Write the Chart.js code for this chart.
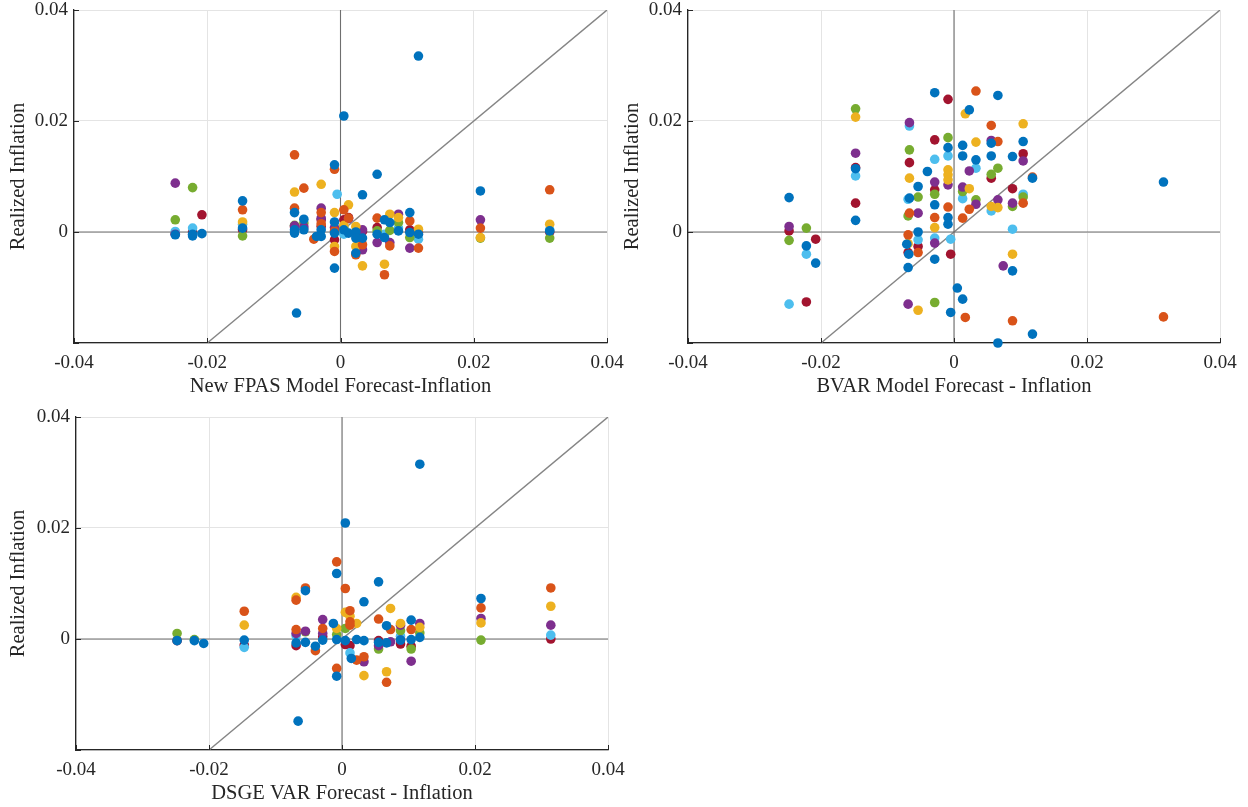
<!DOCTYPE html>
<html>
<head>
<meta charset="utf-8">
<script src="https://cdn.jsdelivr.net/npm/chart.js@4.4.1/dist/chart.umd.min.js"></script>
<style>
  body { margin: 0; background: #fff; width: 1248px; height: 807px; position: relative; overflow: hidden; }
  canvas { position: absolute; }
</style>
</head>
<body>
<canvas id="fpas" width="640" height="400" style="left:0;top:0"></canvas>
<canvas id="bvar" width="634" height="400" style="left:614px;top:0"></canvas>
<canvas id="dsge" width="640" height="400" style="left:0;top:407px"></canvas>
<script>
// tick labels
const xTicks = [-0.04, -0.02, 0, 0.02, 0.04];
const yTicks = [-0.02, 0, 0.02, 0.04];

// matlab default colour order, one series per colour
const seriesColors = ['#0072BD', '#D95319', '#EDB120', '#7E2F8E', '#77AC30', '#4DBEEE', '#A2142F'];

// [forecast, realized, series]
const fpasPoints = [
  [-0.0248,0.0088,3],[-0.0248,0.0022,4],[-0.0248,0.0001,5],[-0.0248,-0.0003,6],[-0.0248,-0.0004,3],[-0.0248,-0.0005,0],
  [-0.0222,0.0080,4],[-0.0222,0.0007,5],[-0.0222,0.0000,6],[-0.0222,-0.0004,0],[-0.0222,-0.0007,0],
  [-0.0208,0.0031,6],[-0.0208,-0.0003,0],
  [-0.0147,0.0056,0],[-0.0147,0.0040,1],[-0.0147,0.0018,2],[-0.0147,0.0014,5],[-0.0147,0.0007,0],[-0.0147,0.0004,6],[-0.0147,-0.0007,4],
  [-0.0069,0.0139,1],[-0.0069,0.0072,2],[-0.0069,0.0043,1],[-0.0069,0.0035,0],[-0.0069,0.0012,4],[-0.0069,0.0011,3],[-0.0069,0.0009,6],[-0.0069,0.0004,0],[-0.0069,-0.0002,0],
  [-0.0066,-0.0146,0],
  [-0.0055,0.0079,1],[-0.0055,0.0023,0],[-0.0055,0.0016,4],[-0.0055,0.0009,3],[-0.0055,0.0004,0],
  [-0.0040,-0.0013,1],[-0.0036,-0.0008,0],
  [-0.0029,0.0086,2],[-0.0029,0.0043,3],[-0.0029,0.0035,1],[-0.0029,0.0025,3],[-0.0029,0.0022,6],[-0.0029,0.0015,1],[-0.0029,0.0010,6],[-0.0029,0.0004,0],[-0.0029,-0.0008,0],
  [-0.0009,0.0121,0],[-0.0009,0.0113,1],[-0.0009,0.0035,2],[-0.0009,0.0018,0],[-0.0009,0.0008,3],[-0.0009,0.0002,1],[-0.0009,-0.0002,0],[-0.0009,-0.0014,6],[-0.0009,-0.0026,2],[-0.0009,-0.0035,1],[-0.0009,-0.0065,0],
  [-0.0005,0.0068,5],
  [0.0005,0.0209,0],[0.0005,0.0040,1],[0.0005,0.0022,6],[0.0005,0.0012,2],[0.0005,0.0008,4],[0.0005,0.0004,0],[0.0005,-0.0004,5],
  [0.0012,0.0049,2],[0.0012,0.0026,6],[0.0012,0.0025,1],[0.0012,0.0024,3],[0.0012,-0.0002,0],
  [0.0023,0.0010,2],[0.0023,0.0000,0],[0.0023,-0.0011,0],[0.0023,-0.0026,2],[0.0023,-0.0038,0],[0.0023,-0.0041,1],
  [0.0033,0.0067,0],[0.0033,0.0004,3],[0.0033,0.0001,6],[0.0033,-0.0011,0],[0.0033,-0.0023,1],[0.0033,-0.0032,3],[0.0033,-0.0061,2],
  [0.0055,0.0104,0],[0.0055,0.0025,1],[0.0055,0.0008,6],[0.0055,0.0002,4],[0.0055,-0.0004,0],[0.0055,-0.0019,3],
  [0.0066,0.0022,0],[0.0066,-0.0004,5],[0.0066,-0.0010,0],[0.0066,-0.0058,2],[0.0066,-0.0077,1],
  [0.0074,0.0032,2],[0.0074,0.0017,0],[0.0074,0.0003,4],[0.0074,-0.0019,3],[0.0074,-0.0025,1],
  [0.0087,0.0032,3],[0.0087,0.0026,2],[0.0087,0.0017,4],[0.0087,0.0007,5],[0.0087,0.0002,0],
  [0.0104,0.0035,0],[0.0104,0.0020,1],[0.0104,0.0004,6],[0.0104,-0.0001,0],[0.0104,-0.0010,4],[0.0104,-0.0029,3],
  [0.0117,0.0317,0],[0.0117,0.0005,2],[0.0117,-0.0001,6],[0.0117,-0.0004,0],[0.0117,-0.0013,5],[0.0117,-0.0029,1],
  [0.0210,0.0074,0],[0.0210,0.0022,3],[0.0210,0.0007,1],[0.0210,-0.0010,2],[0.0210,-0.0011,4],
  [0.0314,0.0076,1],[0.0314,0.0014,2],[0.0314,0.0004,5],[0.0314,0.0002,0],[0.0314,0.0000,6],[0.0314,-0.0011,4]
];

const bvarPoints = [
  [-0.0248,0.0062,0],[-0.0248,0.0010,3],[-0.0248,0.0002,6],[-0.0248,-0.0015,4],[-0.0248,-0.0130,5],
  [-0.0222,0.0007,4],[-0.0222,-0.0025,0],[-0.0222,-0.0040,5],[-0.0222,-0.0126,6],
  [-0.0208,-0.0013,6],[-0.0208,-0.0056,0],
  [-0.0148,0.0222,4],[-0.0148,0.0207,2],[-0.0148,0.0142,3],[-0.0148,0.0116,6],[-0.0148,0.0114,0],[-0.0148,0.0101,5],[-0.0148,0.0052,6],[-0.0148,0.0021,0],
  [-0.0067,0.0197,3],[-0.0067,0.0191,5],[-0.0067,0.0148,4],[-0.0067,0.0125,6],[-0.0067,0.0097,2],[-0.0067,0.0061,0],[-0.0069,0.0059,5],[-0.0067,0.0034,1],[-0.0069,0.0029,4],
  [-0.0069,-0.0005,1],[-0.0071,-0.0022,0],[-0.0069,-0.0021,2],[-0.0069,-0.0037,6],[-0.0068,-0.0040,0],[-0.0069,-0.0064,0],[-0.0069,-0.0130,3],
  [-0.0054,0.0082,0],[-0.0054,0.0063,4],[-0.0054,0.0034,3],[-0.0054,0.0000,0],[-0.0054,-0.0014,5],[-0.0054,-0.0026,6],[-0.0054,-0.0037,1],[-0.0054,-0.0141,2],
  [-0.0040,0.0109,0],
  [-0.0029,0.0251,0],[-0.0029,0.0166,6],[-0.0029,0.0131,5],[-0.0029,0.0090,3],[-0.0029,0.0076,6],[-0.0029,0.0068,4],[-0.0029,0.0049,0],[-0.0029,0.0026,1],[-0.0029,0.0008,2],
  [-0.0029,-0.0011,5],[-0.0029,-0.0020,3],[-0.0029,-0.0049,0],[-0.0029,-0.0127,4],
  [-0.0009,0.0239,6],[-0.0009,0.0170,4],[-0.0009,0.0152,0],[-0.0009,0.0137,5],[-0.0009,0.0112,2],[-0.0009,0.0103,2],[-0.0009,0.0094,2],[-0.0009,0.0085,3],[-0.0009,0.0045,1],
  [-0.0009,0.0026,0],[-0.0009,0.0014,0],[-0.0005,-0.0013,5],[-0.0005,-0.0040,6],[-0.0005,-0.0145,0],
  [0.0005,-0.0101,0],
  [0.0013,0.0156,0],[0.0013,0.0137,0],[0.0013,0.0081,3],[0.0013,0.0073,4],[0.0013,0.0060,5],[0.0013,0.0025,1],[0.0013,-0.0121,0],
  [0.0017,0.0213,2],
  [0.0023,0.0220,0],[0.0023,0.0110,3],[0.0023,0.0078,2],[0.0023,0.0041,1],[0.0017,-0.0154,1],
  [0.0033,0.0254,1],[0.0033,0.0162,2],[0.0033,0.0130,0],[0.0033,0.0115,5],[0.0033,0.0058,4],[0.0033,0.0050,3],
  [0.0056,0.0192,1],[0.0056,0.0165,3],[0.0056,0.0160,0],[0.0056,0.0137,0],[0.0056,0.0104,4],[0.0056,0.0097,6],[0.0056,0.0046,2],[0.0056,0.0038,5],
  [0.0066,0.0246,0],[0.0066,0.0163,1],[0.0066,0.0115,4],[0.0066,0.0058,3],[0.0066,0.0044,2],[0.0066,-0.0200,0],
  [0.0074,-0.0061,3],
  [0.0088,0.0136,0],[0.0088,0.0078,6],[0.0088,0.0052,3],[0.0088,0.0046,4],[0.0088,0.0005,5],[0.0088,-0.0040,2],[0.0088,-0.0070,0],[0.0088,-0.0160,1],
  [0.0104,0.0195,2],[0.0104,0.0163,0],[0.0104,0.0141,6],[0.0104,0.0128,3],[0.0104,0.0068,5],[0.0104,0.0063,4],[0.0104,0.0052,1],
  [0.0118,0.0099,1],[0.0118,0.0097,0],[0.0118,-0.0184,0],
  [0.0315,0.0090,0],[0.0315,-0.0153,1]
];

const dsgePoints = [
  [-0.0248,0.0010,4],[-0.0248,-0.0003,6],[-0.0248,-0.0003,0],
  [-0.0222,-0.0001,4],[-0.0222,-0.0003,0],
  [-0.0208,-0.0008,0],
  [-0.0147,0.0050,1],[-0.0147,0.0025,2],[-0.0147,-0.0015,5],[-0.0147,-0.0011,6],[-0.0147,-0.0002,0],
  [-0.0069,0.0075,2],[-0.0069,0.0070,1],[-0.0069,0.0017,1],[-0.0069,0.0010,3],[-0.0069,0.0006,5],[-0.0069,-0.0012,6],[-0.0069,-0.0007,0],[-0.0066,-0.0148,0],
  [-0.0055,0.0092,1],[-0.0055,0.0087,0],[-0.0055,0.0014,3],[-0.0055,0.0013,4],[-0.0055,-0.0006,0],
  [-0.0040,-0.0013,0],[-0.0040,-0.0021,1],
  [-0.0029,0.0035,3],[-0.0029,0.0019,1],[-0.0029,0.0010,3],[-0.0029,0.0004,6],[-0.0029,-0.0002,0],
  [-0.0013,0.0028,0],
  [-0.0008,0.0139,1],[-0.0008,0.0118,0],[-0.0008,0.0019,2],[-0.0008,0.0008,4],[-0.0008,-0.0001,0],[-0.0008,-0.0053,1],[-0.0008,-0.0067,0],
  [0.0005,0.0209,0],[0.0005,0.0091,1],[0.0005,0.0048,2],[0.0005,0.0019,4],[0.0005,-0.0003,0],[0.0005,-0.0010,6],
  [0.0012,0.0051,1],[0.0012,0.0041,2],[0.0012,0.0031,1],[0.0012,0.0025,1],[0.0012,-0.0012,6],[0.0012,-0.0025,5],[0.0014,-0.0035,0],
  [0.0022,0.0028,2],[0.0022,-0.0001,0],[0.0022,-0.0038,1],
  [0.0033,0.0067,0],[0.0033,-0.0003,0],[0.0033,-0.0032,1],[0.0033,-0.0041,3],[0.0033,-0.0066,2],
  [0.0055,0.0103,0],[0.0055,0.0036,1],[0.0055,-0.0003,6],[0.0055,-0.0012,3],[0.0055,-0.0018,4],[0.0055,-0.0006,0],
  [0.0067,0.0024,0],[0.0067,-0.0007,0],[0.0067,-0.0059,2],[0.0067,-0.0078,1],
  [0.0073,0.0055,2],[0.0073,0.0017,1],[0.0073,-0.0005,3],
  [0.0088,0.0028,2],[0.0088,0.0025,3],[0.0088,0.0015,4],[0.0088,0.0005,5],[0.0088,-0.0002,3],[0.0088,-0.0009,6],[0.0088,-0.0002,0],
  [0.0104,0.0034,0],[0.0104,0.0017,1],[0.0104,-0.0001,0],[0.0104,-0.0013,6],[0.0104,-0.0018,4],[0.0104,-0.0040,3],
  [0.0117,0.0315,0],[0.0117,0.0028,3],[0.0117,0.0021,2],[0.0117,0.0011,4],[0.0117,0.0003,0],
  [0.0209,0.0073,0],[0.0209,0.0056,1],[0.0209,0.0037,3],[0.0209,0.0029,2],[0.0209,-0.0002,4],
  [0.0314,0.0092,1],[0.0314,0.0059,2],[0.0314,0.0025,3],[0.0314,0.0007,5],[0.0314,0.0000,6]
];

const FONT = "'Liberation Serif', 'Times New Roman', serif";
const INK = '#262626';

const fmt = v => Math.abs(v) < 1e-9 ? '0' : v.toFixed(2);

// small inward tick marks like matlab
const inwardTicks = {
  id: 'inwardTicks',
  afterDraw(chart) {
    const { ctx, chartArea: a, scales: { x, y } } = chart;
    ctx.save();
    ctx.strokeStyle = INK;
    ctx.lineWidth = 1;
    xTicks.forEach(v => {
      const px = Math.round(x.getPixelForValue(v)) + 0.5;
      ctx.beginPath(); ctx.moveTo(px, a.bottom); ctx.lineTo(px, a.bottom - 5); ctx.stroke();
    });
    yTicks.forEach(v => {
      const py = Math.round(y.getPixelForValue(v)) + 0.5;
      ctx.beginPath(); ctx.moveTo(a.left, py); ctx.lineTo(a.left + 5, py); ctx.stroke();
    });
    ctx.restore();
  }
};

// keep chart area where the layout padding puts it
const noAutoPad = s => { s.paddingTop = 0; s.paddingBottom = 0; s.paddingLeft = 0; s.paddingRight = 0; };

function makePanel(id, points, xTitle, yWidth, rightPad) {
  const xMin = xTicks[0], xMax = xTicks[xTicks.length - 1];
  const yMin = yTicks[0], yMax = yTicks[yTicks.length - 1];

  const scatterSets = seriesColors.map((c, i) => ({
    data: points.filter(p => p[2] === i).map(p => ({ x: p[0], y: p[1] })),
    backgroundColor: c,
    pointRadius: 4.8,
    pointBorderWidth: 0,
    order: i,
    clip: false
  }));

  const refLine = (data, color, w) => ({
    data, showLine: true, pointRadius: 0, borderColor: color, borderWidth: w, order: 20
  });

  new Chart(document.getElementById(id), {
    type: 'scatter',
    data: {
      datasets: [
        ...scatterSets,
        refLine([{ x: xMin, y: 0 }, { x: xMax, y: 0 }], '#6f6f6f', 1.1),
        refLine([{ x: 0, y: yMin }, { x: 0, y: yMax }], '#6f6f6f', 1.1),
        refLine([{ x: yMin, y: yMin }, { x: xMax, y: xMax }], '#858585', 1.4)
      ]
    },
    options: {
      responsive: false,
      animation: false,
      layout: { padding: { left: 0, top: 10, right: rightPad, bottom: 0 } },
      plugins: { legend: { display: false }, tooltip: { enabled: false } },
      scales: {
        x: {
          type: 'linear', min: xMin, max: xMax,
          afterBuildTicks: s => { s.ticks = xTicks.map(v => ({ value: v })); },
          afterFit: s => { s.height = 57; noAutoPad(s); },
          grid: { color: '#e4e4e4', drawTicks: false },
          border: { color: INK, width: 1.3 },
          ticks: { padding: 11, color: INK, font: { family: FONT, size: 19, lineHeight: 1 }, callback: fmt, maxRotation: 0 },
          title: { display: true, text: xTitle, color: INK, font: { family: FONT, size: 20.5, lineHeight: 1.2 }, padding: { top: 0, bottom: 1 } }
        },
        y: {
          type: 'linear', min: yMin, max: yMax,
          afterBuildTicks: s => { s.ticks = yTicks.map(v => ({ value: v })); },
          afterFit: s => { s.width = yWidth; noAutoPad(s); },
          grid: { color: '#e4e4e4', drawTicks: false },
          border: { color: INK, width: 1.3 },
          ticks: { padding: 6, color: INK, font: { family: FONT, size: 19, lineHeight: 1 },
                   callback: v => v === yMin ? '' : fmt(v) },
          title: { display: true, text: 'Realized Inflation', color: INK, font: { family: FONT, size: 20.5, lineHeight: 1.2 }, padding: { top: 6, bottom: 0 } }
        }
      }
    },
    plugins: [inwardTicks]
  });
}

makePanel('fpas', fpasPoints, 'New FPAS Model Forecast-Inflation', 74, 33);
makePanel('bvar', bvarPoints, 'BVAR Model Forecast - Inflation', 74, 28);
makePanel('dsge', dsgePoints, 'DSGE VAR Forecast - Inflation', 76, 32);
</script>
</body>
</html>
